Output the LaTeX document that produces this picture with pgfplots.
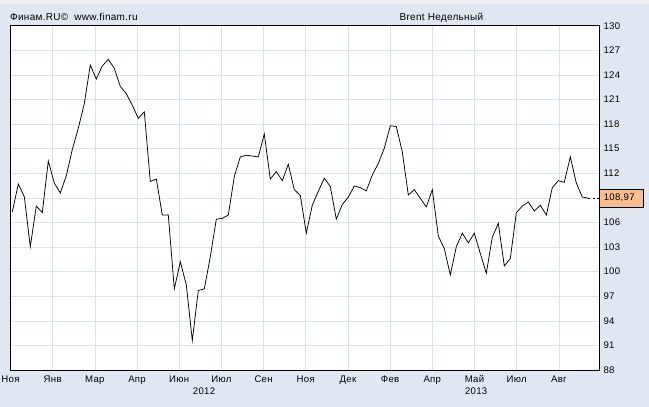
\documentclass[border=0pt]{standalone}
\usepackage{fontspec}
\setmainfont{Liberation Sans}[LetterSpace=3]
\usepackage{pgfplots}
\pgfplotsset{compat=1.18}
\definecolor{bg}{RGB}{225,231,241}
\definecolor{topstrip}{RGB}{238,240,244}
\definecolor{gridc}{RGB}{218,226,238}
\definecolor{boxc}{RGB}{250,190,142}
\pgfplotstableread{
i v
0 107.3
1 110.7
2 109.15
3 103.05
4 108.0
5 107.2
6 113.5
7 110.8
8 109.6
9 111.7
10 114.9
11 117.5
12 120.5
13 125.2
14 123.5
15 125.1
16 125.9
17 124.8
18 122.6
19 121.7
20 120.3
21 118.7
22 119.5
23 111.0
24 111.3
25 106.9
26 106.9
27 97.9
28 101.2
29 98.4
30 91.6
31 97.7
32 97.9
33 101.8
34 106.4
35 106.5
36 106.9
37 111.6
38 114.0
39 114.2
40 114.1
41 114.0
42 116.8
43 111.3
44 112.2
45 111.1
46 113.1
47 110.0
48 109.3
49 104.7
50 108.1
51 109.8
52 111.4
53 110.4
54 106.4
55 108.2
56 109.1
57 110.45
58 110.25
59 109.85
60 111.8
61 113.2
62 115.05
63 117.8
64 117.7
65 114.6
66 109.35
67 110.0
68 108.95
69 107.9
70 110.0
71 104.35
72 102.8
73 99.6
74 103.05
75 104.7
76 103.5
77 104.7
78 102.2
79 99.8
80 104.2
81 105.9
82 100.7
83 101.6
84 107.2
85 108.0
86 108.5
87 107.4
88 108.1
89 106.9
90 110.25
91 111.1
92 110.9
93 114.0
94 110.8
95 109.1
96 108.97
}\brent
\begin{document}
\begin{tikzpicture}[x=1pt,y=1pt]
\fill[bg] (0,0) rectangle (649,407);
\fill[topstrip] (0,403) rectangle (649,407);
\useasboundingbox (0,0) rectangle (649,407);
\begin{axis}[
  at={(10.5pt,37pt)}, anchor=south west,
  scale only axis, width=588.5pt, height=344.3pt,
  xmin=-0.3, xmax=97.78, ymin=88, ymax=130,
  axis background/.style={fill=white},
  axis line style={line width=0.9pt},
  xtick={-0.3,6.73,13.76,20.79,27.82,34.85,41.88,48.91,55.94,62.97,70.0,77.03,84.06,91.09},
  xticklabels={Ноя,Янв,Мар,Апр,Июн,Июл,Сен,Ноя,Дек,Фев,Апр,Май,Июл,Авг},
  ytick={88,91,...,130},
  yticklabels={88,91,94,97,100,103,106,,112,115,118,121,124,127,130},
  grid=major, major grid style={draw=gridc, line width=0.6pt},
  major tick length=0pt,
  yticklabel pos=right,
  ticklabel style={font=\fontsize{9.6}{11}\selectfont},
  /pgf/number format/assume math mode=true,
  yticklabel style={anchor=west, inner sep=0pt, xshift=4.3pt},
  xticklabel style={anchor=base, inner sep=0pt, yshift=-12.5pt},
  clip=false,
]
\addplot[black, line width=0.75pt] table[x=i, y=v] {\brent};
\addplot[black, line width=0.6pt, dash pattern=on 2pt off 2.5pt] coordinates {(96,108.97) (97.78,108.97)};
\draw[line width=0.8pt] (axis cs:6,88) ++(0,-16pt) -- ++(0,-10pt);
\draw[line width=0.8pt] (axis cs:59,88) ++(0,-16pt) -- ++(0,-10pt);
\node[anchor=base, inner sep=0pt, font=\fontsize{9.6}{11}\selectfont] at ([yshift=-24.5pt]axis cs:31.95,88) {2012};
\node[anchor=base, inner sep=0pt, font=\fontsize{9.6}{11}\selectfont] at ([yshift=-24.5pt]axis cs:77.3,88) {2013};
\coordinate (lastpt) at (axis cs:97.78,108.97);
\end{axis}
\node[fill=boxc, draw=black, line width=0.6pt, anchor=west, minimum height=17.6pt, inner ysep=0pt, inner xsep=4.5pt, text width=35pt, align=left, font=\fontsize{9.6}{11}\selectfont] at (lastpt) {108,97};
\node[anchor=base west, inner sep=0pt, font=\fontsize{10}{12}\selectfont] at (10,386.3) {Финам.RU©\hspace{6pt}www.finam.ru};
\node[anchor=base west, inner sep=0pt, font=\fontsize{10}{12}\selectfont] at (399.4,386.3) {Brent Недельный};
\end{tikzpicture}
\end{document}
